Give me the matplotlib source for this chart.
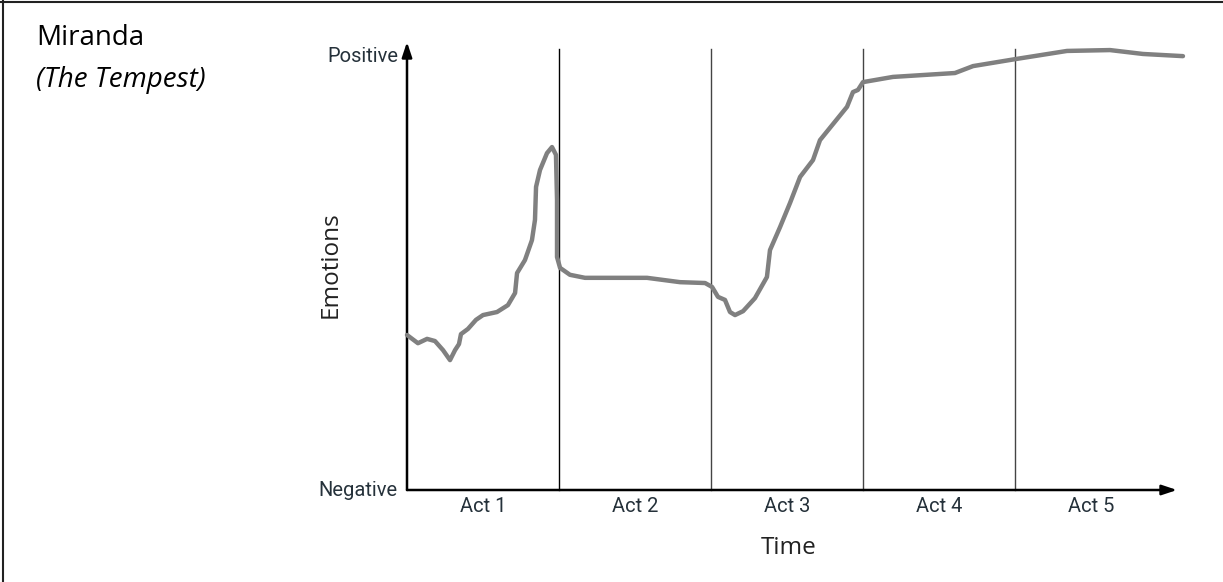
import matplotlib.pyplot as plt
from matplotlib.lines import Line2D

# emotion curve for Miranda, x in acts (0..5), y in 0 (negative) .. 100 (positive)
time_x = [0, 0.072, 0.132, 0.184, 0.237, 0.283, 0.316, 0.342, 0.355, 0.401,
          0.454, 0.500, 0.592, 0.664, 0.711, 0.724, 0.776, 0.822, 0.842, 0.849,
          0.875, 0.921, 0.954, 0.980, 0.987, 0.987, 1.007, 1.072, 1.171, 1.270,
          1.579, 1.796, 1.961, 2.007, 2.046, 2.092, 2.125, 2.158, 2.211, 2.289,
          2.368, 2.388, 2.454, 2.520, 2.586, 2.671, 2.717, 2.895, 2.934, 2.967,
          3.0, 3.197, 3.605, 3.724, 4.0, 4.342, 4.625, 4.842, 5.105]
emotion_y = [35.8, 33.9, 34.9, 34.4, 32.3, 30.0, 32.3, 33.7, 36.0, 37.2,
             39.3, 40.4, 41.1, 42.7, 45.5, 50.1, 53.1, 57.7, 62.4, 70.0,
             73.9, 77.8, 79.2, 77.4, 67.0, 53.8, 51.3, 49.7, 49.0, 49.0,
             49.0, 48.0, 47.8, 46.9, 44.6, 43.9, 41.1, 40.4, 41.3, 44.3,
             49.2, 55.4, 60.7, 66.3, 72.3, 76.2, 80.8, 88.5, 91.9, 92.4,
             94.2, 95.4, 96.3, 97.9, 99.5, 101.4, 101.6, 100.7, 100.2]

act_labels = ["Act 1", "Act 2", "Act 3", "Act 4", "Act 5"]
act_bounds = [1, 2, 3, 4]
bound_colors = ["black", "#444444", "#444444", "#444444"]

W, H = 1223, 582
fig = plt.figure(figsize=(W / 100, H / 100), dpi=100)

# axes placed so that x=0..5.066 spans px 407..1177 and y=0..103.5 spans px 490..42
x0, x1 = 407, 1177
y0, y1 = 490, 42
ax = fig.add_axes([x0 / W, (H - y0) / H, (x1 - x0) / W, (y0 - y1) / H])
xmax = (x1 - x0) / 152.0
ymax = (y0 - y1) / 4.33
ax.set_xlim(0, xmax)
ax.set_ylim(0, ymax)
ax.axis("off")

# act dividers
for b, c in zip(act_bounds, bound_colors):
    ax.plot([b, b], [0, 101.8], color=c, lw=1.0, clip_on=False)

# axes with arrows
ax.annotate("", xy=(xmax, 0), xytext=(0, 0),
            arrowprops=dict(arrowstyle="-|>,head_length=0.9,head_width=0.3",
                            color="black", lw=1.8, shrinkA=0, shrinkB=0),
            annotation_clip=False)
ax.annotate("", xy=(0, ymax), xytext=(0, 0),
            arrowprops=dict(arrowstyle="-|>,head_length=0.9,head_width=0.3",
                            color="black", lw=1.8, shrinkA=0, shrinkB=0),
            annotation_clip=False)

ax.plot(time_x, emotion_y, color="#808080", lw=3.2, solid_joinstyle="round",
        solid_capstyle="round", clip_on=False, zorder=3)

lab_color = "#25313a"
for i, lab in enumerate(act_labels):
    ax.text(i + 0.5, -3.8, lab, ha="center", va="center", fontsize=14.5,
            color=lab_color, family="Roboto")
ax.text(-0.06, 0, "Negative", ha="right", va="center", fontsize=14.5,
        color=lab_color, family="Roboto")
ax.text(-0.06, 100, "Positive", ha="right", va="center", fontsize=14.5,
        color=lab_color, family="Roboto")

fig.text(789 / W, 1 - 548 / H, "Time", ha="center", va="center", fontsize=17.5,
         color="#222222", family="Open Sans")
fig.text(331 / W, 1 - 265 / H, "Emotions", ha="center", va="center",
         fontsize=17.5, rotation=90, color="#222222", family="Open Sans")

fig.text(36 / W, 1 - 38 / H, "Miranda", ha="left", va="center", fontsize=20,
         color="black", family="Open Sans")
fig.text(36 / W, 1 - 80 / H, "(The Tempest)", ha="left", va="center",
         fontsize=20, style="italic", color="black", family="Open Sans")

# border on top and left
fig.add_artist(Line2D([0, 1], [1 - 2 / H, 1 - 2 / H], transform=fig.transFigure,
                      color="#222222", lw=1.5))
fig.add_artist(Line2D([2.5 / W, 2.5 / W], [0, 1], transform=fig.transFigure,
                      color="#222222", lw=1.5))

fig.savefig("out.png", dpi=100)
